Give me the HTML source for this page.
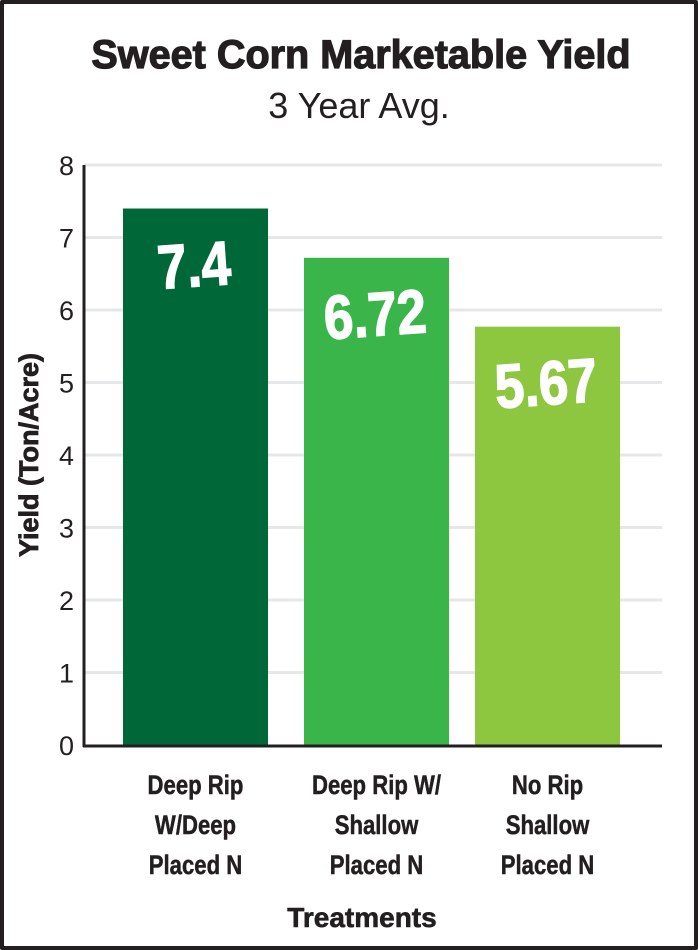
<!DOCTYPE html>
<html><head><meta charset="utf-8"><style>
body{margin:0;background:#fff;}
#wrap{position:relative;width:698px;height:950px;box-sizing:border-box;border:4px solid #231f20;border-radius:2px;overflow:hidden;background:#fff;}
svg{position:absolute;left:-4px;top:-4px;}
text{font-family:"Liberation Sans",sans-serif;}
</style></head><body>
<div id="wrap">
<svg id="chart" width="698" height="950">
<text x="0" y="0" text-anchor="middle" font-size="40" font-weight="bold" fill="#231f20" stroke="#231f20" stroke-width="1.2" transform="translate(361,68) scale(0.99,1)">Sweet Corn Marketable Yield</text>
<text x="359" y="118" text-anchor="middle" font-size="36" fill="#231f20">3 Year Avg.</text>
<text transform="translate(38,455) rotate(-90)" text-anchor="middle" font-size="27" font-weight="bold" fill="#231f20" stroke="#231f20" stroke-width="0.8">Yield (Ton/Acre)</text>
<text x="362" y="927" text-anchor="middle" font-size="28" font-weight="bold" fill="#231f20" stroke="#231f20" stroke-width="0.6">Treatments</text>
<g id="grid"></g><g id="bars"></g><g id="xl"></g>
</svg></div>
<script>
const categories=[["Deep Rip","W/Deep","Placed N"],["Deep Rip W/","Shallow","Placed N"],["No Rip","Shallow","Placed N"]];
const values=[7.4,6.72,5.77];
const valueLabels=["7.4","6.72","5.67"];
const yTicks=[0,1,2,3,4,5,6,7,8];
const colors=["#006838","#39b54a","#8dc63f"];
const NS="http://www.w3.org/2000/svg";
const y0=745,y1=165,yMax=8;
function yScale(v){return y0-(v/yMax)*(y0-y1);}
const plotL=84,barW=145;
function xScale(i){return 123+i*176+(i==1?5:0);}
function mk(t,a,p){const e=document.createElementNS(NS,t);for(const k in a)e.setAttribute(k,a[k]);p.appendChild(e);return e;}
const grid=document.getElementById('grid'),bars=document.getElementById('bars'),xl=document.getElementById('xl');
yTicks.forEach(t=>{
 const y=yScale(t);
 if(t>0){const l=mk('line',{x1:plotL,x2:662,y1:y,y2:y,stroke:'#e6e7e8','stroke-width':3},grid);
 
 }
 const tx=mk('text',{x:74,y:y+10,'text-anchor':'end','font-size':27,fill:'#231f20'},grid);tx.textContent=t;
 
 
});
values.forEach((v,i)=>{
 const x=xScale(i);
 const y=yScale(v);
 const r=mk('rect',{x:x,y:y,width:barW,height:y0-y,fill:colors[i]},bars);
 
 
 const t=mk('text',{x:0,y:0,'text-anchor':'middle','font-size':62,'font-weight':'bold',fill:'#fff',stroke:'#fff','stroke-width':1.5,transform:`translate(${x+barW/2},${y+78}) rotate(-4) scale(0.85,1)`},bars);
 t.textContent=valueLabels[i];
 
 
 categories[i].forEach((s,j)=>{
  const c=mk('text',{x:0,y:0,'text-anchor':'middle','font-size':27,'font-weight':'bold',fill:'#231f20',stroke:'#231f20','stroke-width':0.5,transform:`translate(${x+barW/2},${794+j*40}) scale(0.82,1)`},xl);
  c.textContent=s;
  
  
 });
});
const ax=mk('line',{x1:plotL,x2:plotL,y1:y1,y2:y0+2,stroke:'#231f20','stroke-width':3},bars);


const bx=mk('line',{x1:plotL-1,x2:662,y1:y0+1,y2:y0+1,stroke:'#231f20','stroke-width':3},bars);


</script>
</body></html>
